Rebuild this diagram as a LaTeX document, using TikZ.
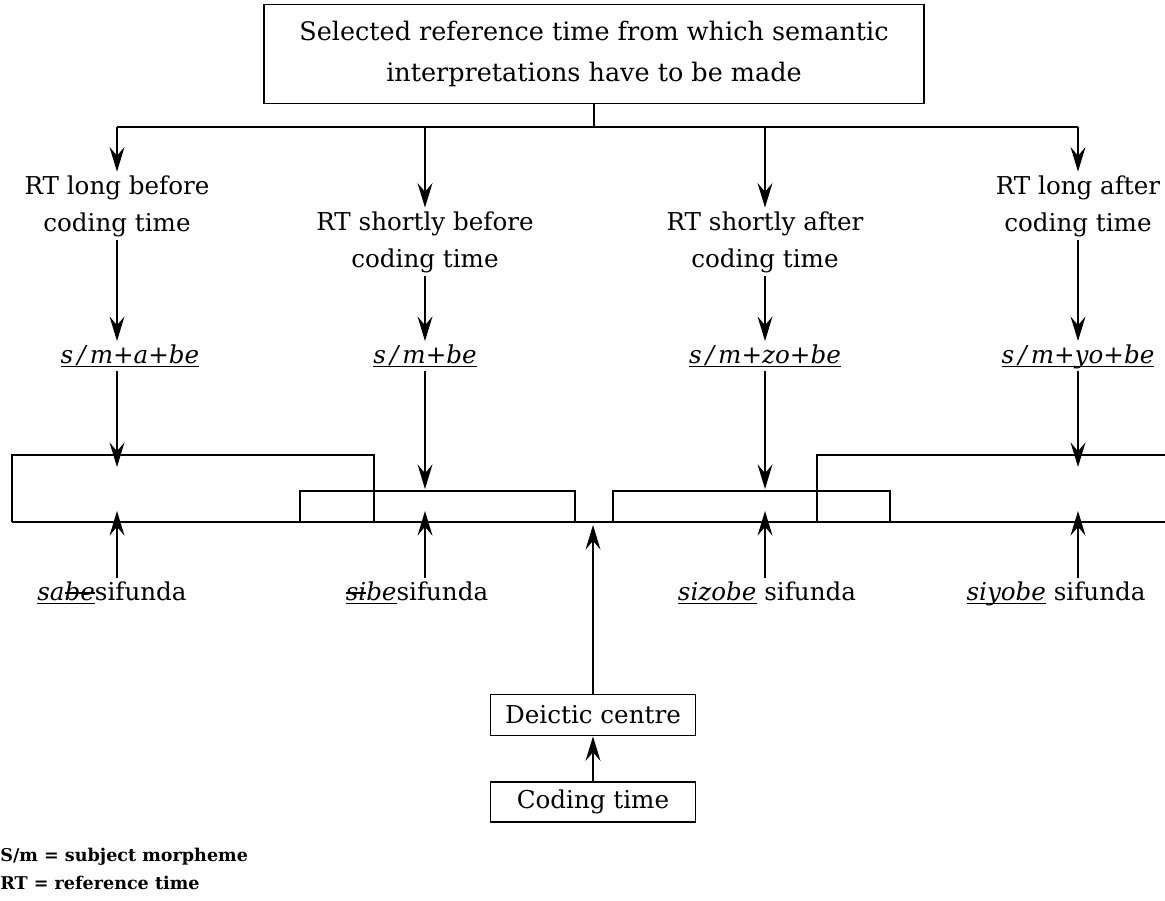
\documentclass[tikz,border=0pt]{standalone}
\usepackage{fontspec}
\setmainfont{DejaVu Serif}
\usepackage{tikz}
\usetikzlibrary{arrows.meta,positioning}
\tikzstyle{edge}=[line width=1pt, -{Stealth[length=14pt,width=8.5pt,inset=5pt]}]
\tikzstyle{line}=[line width=1pt]
\tikzstyle{box} =[draw, line width=1pt, inner sep=0pt, align=center]
\tikzstyle{txt} =[align=center, inner sep=2pt]
\newcommand{\strk}[1]{\setbox0\hbox{#1}\rlap{\rule[0.55ex]{\wd0}{0.8pt}}\box0}
\newcommand{\morph}[1]{\underline{\raisebox{0pt}[\height][0pt]{\textit{#1}}}}

\begin{document}
\begin{tikzpicture}[x=0.02cm, y=-0.02cm,
    every node/.style={font=\fontsize{14}{21}\selectfont}]
  \useasboundingbox (0,0) rectangle (1165,900);

  % top box and branching
  \node[box, minimum width=13.2cm, minimum height=1.98cm,
        font=\fontsize{14.5}{23}\selectfont] (sel) at (594,54)
    {Selected reference time from which semantic\\interpretations have to be made};
  \coordinate (j) at (594,127);
  \foreach \x/\n in {117/1,425/2,765/3,1078/4} \coordinate (b\n) at (\x,127);
  \draw[line] (sel.south) -- (j);
  \draw[line] (b1) -- (b4);

  % reference times
  \node[txt] (t1) at (117,206) {RT long before\\coding time};
  \node[txt] (t2) at (425,242) {RT shortly before\\coding time};
  \node[txt] (t3) at (765,242) {RT shortly after\\coding time};
  \node[txt] (t4) at (1078,206) {RT long after\\coding time};

  % morphemes
  \node[txt] (m1) at (130,356) {\morph{s\,/\,m+a+be}};
  \node[txt] (m2) at (425,356) {\morph{s\,/\,m+be}};
  \node[txt] (m3) at (765,356) {\morph{s\,/\,m+zo+be}};
  \node[txt] (m4) at (1078,356) {\morph{s\,/\,m+yo+be}};

  % arrow ends on the time line
  \foreach \x/\y/\n in {117/467/1,425/489/2,765/489/3,1078/467/4}{
    \coordinate (p\n) at (\x,\y);
    \coordinate (q\n) at (\x,511);
  }

  \foreach \n in {1,...,4}{
    \draw[edge] (b\n) -- (t\n.north);
    \draw[edge] (t\n.south) -- (m\n.north -| b\n);
    \draw[edge] (m\n.south -| b\n) -- (p\n);
  }

  % time line with the ranges
  \draw[line] (12,522) -- (1165,522);
  \draw[line] (12,522) |- (374,455) -- (374,522);
  \draw[line] (300,522) |- (575,491) -- (575,522);
  \draw[line] (613,522) |- (890,491) -- (890,522);
  \draw[line] (817,522) |- (1165,455);

  % verb forms
  \node[txt] (s1) at (112,593) {\morph{sa\strk{be}}sifunda};
  \node[txt] (s2) at (417,593) {\morph{\strk{si}be}sifunda};
  \node[txt] (s3) at (767,593) {\morph{sizobe} sifunda};
  \node[txt] (s4) at (1056,593) {\morph{siyobe} sifunda};
  \foreach \n in {1,...,4}
    \draw[edge] (s\n.north -| q\n) -- (q\n);

  % deictic centre
  \node[box, minimum width=4.1cm, minimum height=0.82cm] (d) at (593,715) {Deictic centre};
  \node[box, minimum width=4.1cm, minimum height=0.8cm] (c) at (593,802) {Coding time};
  \coordinate (dc) at (593,525);
  \draw[edge] (d.north) -- (dc);
  \draw[edge] (c.north) -- (d.south);

  % key
  \node[anchor=west, inner sep=0pt, font=\fontsize{10}{13}\selectfont\bfseries] (k1) at (0,857) {S/m = subject morpheme};
  \node[anchor=west, inner sep=0pt, font=\fontsize{10}{13}\selectfont\bfseries] (k2) at (0,883) {RT = reference time};
\end{tikzpicture}
\end{document}
